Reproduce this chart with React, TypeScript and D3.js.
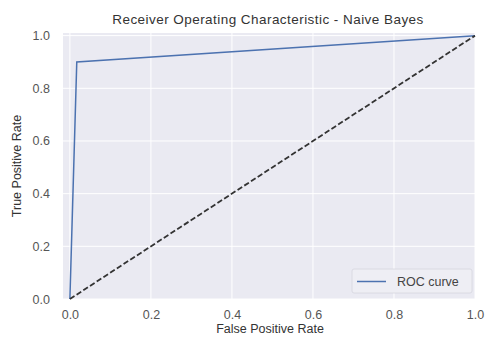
import * as d3 from 'd3';
import React, { useEffect, useRef } from 'react';

// roc points
const fpr = [0.0, 0.017, 1.0];
const tpr = [0.0, 0.9, 1.0];
const chanceX = [0, 1];
const chanceY = [0, 1];
const tickValues = [0.0, 0.2, 0.4, 0.6, 0.8, 1.0];

const W = 486;
const H = 338;

function App() {
  const ref = useRef<SVGSVGElement>(null);

  useEffect(() => {
    const svg = d3.select(ref.current);
    svg.selectAll('*').remove();

    const left = 63, right = 475, top = 33, bottom = 299;
    const x = d3.scaleLinear().domain([-0.017, 1.0]).range([left, right]);
    const y = d3.scaleLinear().domain([0, 1.01]).range([bottom, top]);
    const font = 'Liberation Sans, Arial, sans-serif';

    svg.append('rect')
      .attr('x', left).attr('y', top)
      .attr('width', right - left).attr('height', bottom - top)
      .attr('fill', '#eaeaf2');

    // grid
    const g = svg.append('g');
    g.selectAll('.gx').data(tickValues).enter().append('line')
      .attr('x1', d => x(d)).attr('x2', d => x(d))
      .attr('y1', top).attr('y2', bottom)
      .attr('stroke', '#fff').attr('stroke-width', 1);
    g.selectAll('.gy').data(tickValues).enter().append('line')
      .attr('x1', left).attr('x2', right)
      .attr('y1', d => y(d)).attr('y2', d => y(d))
      .attr('stroke', '#fff').attr('stroke-width', 1);

    // axes, labels only
    const xAxis = svg.append('g')
      .attr('transform', 'translate(0,' + (bottom + 4) + ')')
      .call(d3.axisBottom(x).tickValues(tickValues).tickFormat(d3.format('.1f')).tickSize(0).tickPadding(7));
    const yAxis = svg.append('g')
      .attr('transform', 'translate(' + (left - 6) + ',0)')
      .call(d3.axisLeft(y).tickValues(tickValues).tickFormat(d3.format('.1f')).tickSize(0).tickPadding(7));
    [xAxis, yAxis].forEach(a => {
      a.select('.domain').remove();
      a.selectAll('text')
        .attr('fill', '#555')
        .style('font-family', font)
        .style('font-size', '12.5px');
    });

    const line = d3.line<number>().x((d, i) => x(fpr[i])).y((d, i) => y(tpr[i]));
    svg.append('path')
      .attr('d', line(fpr))
      .attr('fill', 'none')
      .attr('stroke', '#4c72b0')
      .attr('stroke-width', 1.5);

    const chance = d3.line<number>().x((d, i) => x(chanceX[i])).y((d, i) => y(chanceY[i]));
    svg.append('path')
      .attr('d', chance(chanceX))
      .attr('fill', 'none')
      .attr('stroke', '#333')
      .attr('stroke-width', 1.8)
      .attr('stroke-dasharray', '5.5,2.5');

    // legend
    const lg = svg.append('g').attr('transform', 'translate(352,269)');
    lg.append('rect')
      .attr('width', 120).attr('height', 24).attr('rx', 2)
      .attr('fill', '#eeeef4').attr('stroke', '#d6d6de').attr('stroke-width', 0.8);
    lg.append('line')
      .attr('x1', 5).attr('x2', 34).attr('y1', 12.5).attr('y2', 12.5)
      .attr('stroke', '#4c72b0').attr('stroke-width', 1.5);
    lg.append('text')
      .attr('x', 45).attr('y', 17)
      .attr('fill', '#444')
      .style('font-family', font).style('font-size', '12.5px')
      .text('ROC curve');

    svg.append('text')
      .attr('x', 268).attr('y', 24)
      .attr('text-anchor', 'middle').attr('fill', '#333')
      .style('font-family', font).style('font-size', '13.5px')
      .style('letter-spacing', '0.45px')
      .text('Receiver Operating Characteristic - Naive Bayes');

    svg.append('text')
      .attr('x', 270).attr('y', 333)
      .attr('text-anchor', 'middle').attr('fill', '#333')
      .style('font-family', font).style('font-size', '12.5px')
      .text('False Positive Rate');

    svg.append('text')
      .attr('transform', 'translate(21,' + ((top + bottom) / 2) + ') rotate(-90)')
      .attr('text-anchor', 'middle').attr('fill', '#333')
      .style('font-family', font).style('font-size', '12.5px')
      .text('True Positive Rate');
  }, []);

  return (
    <svg ref={ref} width={W} height={H}
      style={{ position: 'absolute', left: 0, top: 0, background: '#fff' }} />
  );
}

export default App;
